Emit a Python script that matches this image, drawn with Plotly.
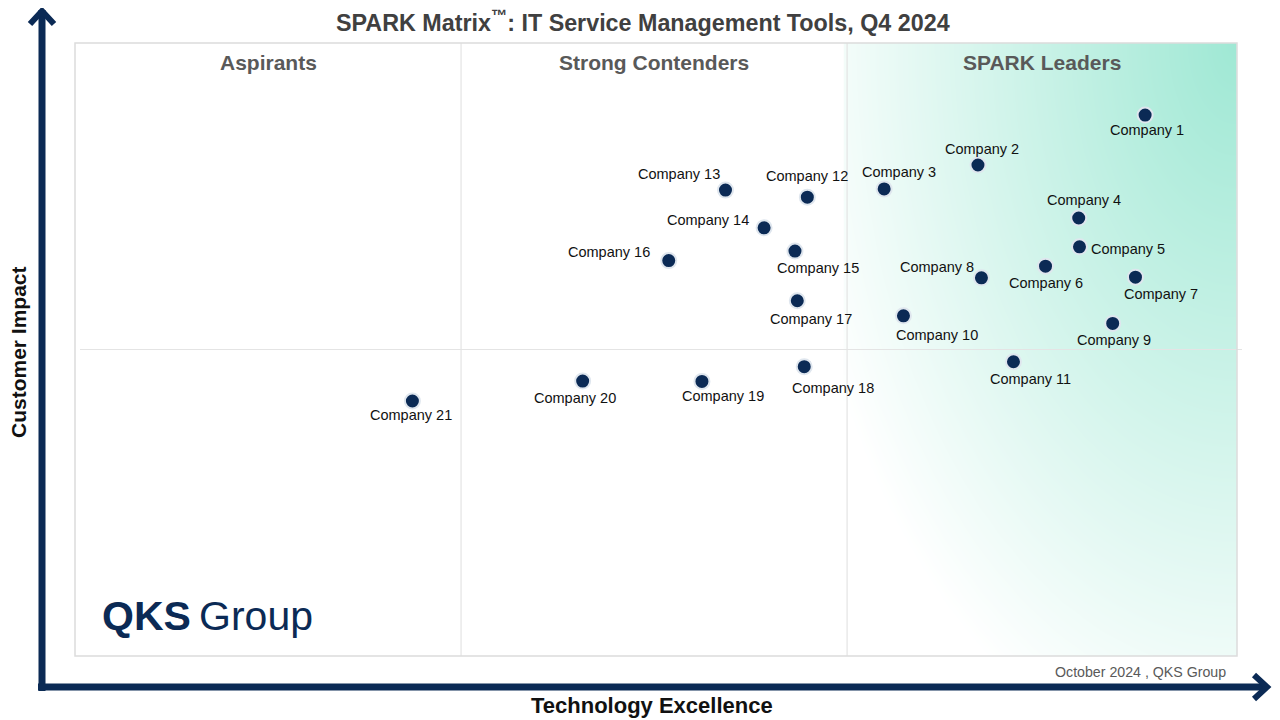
import numpy as np
import plotly.graph_objects as go

# company positions (x: technology excellence, y: customer impact)
companies = [f"Company {i}" for i in range(1, 22)]
tech_excellence = [
    2.772, 2.339, 2.096, 2.600, 2.602, 2.514, 2.747, 2.348, 2.688, 2.146, 2.431,
    1.897, 1.685, 1.785, 1.865, 1.538, 1.871, 1.889, 1.624, 1.315, 0.874,
]
customer_impact = [
    1.765, 1.602, 1.524, 1.429, 1.335, 1.272, 1.236, 1.234, 1.085, 1.110, 0.960,
    1.497, 1.520, 1.397, 1.321, 1.290, 1.159, 0.944, 0.896, 0.897, 0.832,
]
quadrant_names = ["Aspirants", "Strong Contenders", "SPARK Leaders"]

# label offsets in pixels (dx right, dy up) so labels sit like the original
label_shift = [
    (2, -15), (4, 16), (15, 17), (5, 18), (49, -2), (0, -17), (26, -17),
    (-44, 11), (1, -17), (34, -19), (17, -17), (0, 21), (-46, 16), (-56, 8),
    (23, -17), (-60, 9), (14, -18), (29, -21), (21, -15), (-8, -17), (-1, -14),
]

NAVY = "#0b2a55"
FONT = "Liberation Sans, Arial"
X_MAX = 3.01
# the page adds an 8px body margin on the top/left, so the figure sits 8px in
W, H = 1272, 712
L, R, T, B = 67, 43, 35, 64


def px(x):
    # page pixel -> paper fraction (plot area spans 75..1237 on the page)
    return (x - 75) / 1162


def py(y):
    return (656 - y) / 613


def label(x, y, text, size, color, **kw):
    fig.add_annotation(
        x=px(x), y=py(y), xref="paper", yref="paper", showarrow=False,
        xanchor=kw.pop("xanchor", "center"), yanchor="middle", text=text,
        font=dict(family=FONT, size=size, color=color), **kw,
    )


fig = go.Figure()

# gradient behind the leaders quadrant
gx = np.linspace(2, X_MAX, 60)
gy = np.linspace(0, 2, 80)
GX, GY = np.meshgrid(gx, gy)
dist = np.sqrt(((X_MAX - GX) / 1.01) ** 2 + ((2 - GY) / 2.1) ** 2)
shade = np.clip(1 - dist / 1.15, 0, 1)
fig.add_trace(
    go.Heatmap(
        x=gx,
        y=gy,
        z=shade,
        zmin=0,
        zmax=1,
        zsmooth="best",
        colorscale=[[0, "#ffffff"], [1, "#9fe8d4"]],
        showscale=False,
        hoverinfo="skip",
    )
)

fig.add_trace(
    go.Scatter(
        x=tech_excellence,
        y=customer_impact,
        mode="markers",
        text=companies,
        marker=dict(size=15, color=NAVY, line=dict(color="#dfe6ee", width=2)),
        hoverinfo="text",
    )
)

for name, x, y, (dx, dy) in zip(companies, tech_excellence, customer_impact, label_shift):
    fig.add_annotation(
        x=x, y=y, text=name, showarrow=False,
        xanchor="center", yanchor="middle",
        xshift=dx, yshift=dy,
        font=dict(family=FONT, size=14.5, color="#111111"),
    )

for i, q in enumerate(quadrant_names):
    fig.add_annotation(
        x=i + 0.5 if i < 2 else (2 + X_MAX) / 2, y=py(62), yref="paper",
        xanchor="center", yanchor="middle",
        text=f"<b>{q}</b>", showarrow=False,
        font=dict(family=FONT, size=21, color="#595959"),
    )

# grid lines between quadrants
for xv in (1, 2):
    fig.add_shape(type="line", x0=xv, x1=xv, y0=0, y1=2,
                  line=dict(color="#e4e4e4", width=1.2))
fig.add_shape(type="line", xref="paper", x0=px(80), x1=px(1242), y0=1, y1=1,
              line=dict(color="#e4e4e4", width=1.2))
fig.add_shape(type="rect", xref="paper", yref="paper", x0=0, x1=1, y0=0, y1=1,
              line=dict(color="#dcdcdc", width=1.5))

# axis arrows
fig.add_shape(type="line", xref="paper", yref="paper",
              x0=px(42), x1=px(42), y0=py(691), y1=py(10),
              line=dict(color=NAVY, width=7))
fig.add_shape(type="line", xref="paper", yref="paper",
              x0=px(38), x1=px(1266), y0=py(687), y1=py(687),
              line=dict(color=NAVY, width=7))
fig.add_shape(type="path", xref="paper", yref="paper",
              path=f"M {px(30)},{py(24)} L {px(42)},{py(11)} L {px(54)},{py(24)}",
              line=dict(color=NAVY, width=6))
fig.add_shape(type="path", xref="paper", yref="paper",
              path=f"M {px(1254)},{py(675)} L {px(1267)},{py(687)} L {px(1254)},{py(699)}",
              line=dict(color=NAVY, width=6))

# titles, footer and logo
label(643, 21, "<b>SPARK Matrix<sup>™</sup>: IT Service Management Tools, Q4 2024</b>",
      23.3, "#404040")
label(652, 705, "<b>Technology Excellence</b>", 22, "#111111")
label(18, 352, "<b>Customer Impact</b>", 21, "#111111", textangle=-90)
label(1140, 672, "October 2024 , QKS Group", 14.2, "#595959")
label(100, 616, "<b>QKS</b>\u2009Group", 41, NAVY, xanchor="left")

fig.update_xaxes(range=[0, X_MAX], visible=False, showgrid=False, zeroline=False)
fig.update_yaxes(range=[0, 2], visible=False, showgrid=False, zeroline=False)
fig.update_layout(
    width=W,
    height=H,
    margin=dict(l=L, r=R, t=T, b=B),
    paper_bgcolor="white",
    plot_bgcolor="white",
    showlegend=False,
)

fig.write_html("out.html")
